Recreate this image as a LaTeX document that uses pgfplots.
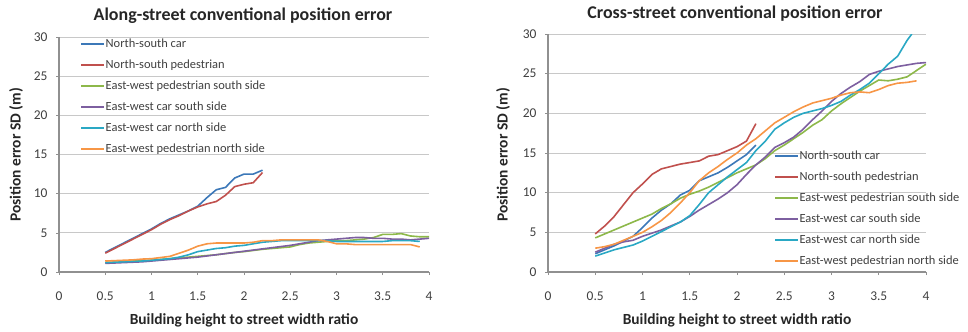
\documentclass[border=0pt]{standalone}
\usepackage{pgfplots}
\pgfplotsset{compat=1.18}
\usepackage{fontspec}
\setmainfont{Carlito}
\definecolor{cBlue}{HTML}{3C78B8}
\definecolor{cRed}{HTML}{C0504D}
\definecolor{cGreen}{HTML}{8DB84A}
\definecolor{cPurple}{HTML}{7D5FA0}
\definecolor{cTeal}{HTML}{2AA8C4}
\definecolor{cOrange}{HTML}{F79646}
\definecolor{cGrid}{HTML}{C8C8C8}
\definecolor{cAxis}{HTML}{909090}
\pgfplotsset{
  excel/.style={
    scale only axis,
    xmin=0, xmax=4, ymin=0, ymax=30,
    xtick={0,0.5,...,4}, ytick={0,5,...,30},
    axis x line*=bottom, axis y line*=left,
    axis line style={cAxis, line width=1.2bp, -},
    ymajorgrids, grid style={cGrid, line width=0.7bp},
    tick align=outside, major tick length=3bp,
    tick style={cAxis, line width=0.6bp},
    /pgf/number format/assume math mode=true,
    ticklabel style={font=\fontsize{13.5}{15}\selectfont, text=black!75},
    xticklabel style={anchor=base, yshift=-25bp},
    yticklabel style={anchor=east, xshift=-5bp},
    legend cell align=left,
    legend style={draw=none, fill=none, font=\fontsize{12.5}{14}\selectfont,
      text=black!75, row sep=9.9bp, inner sep=0pt,
      nodes={inner sep=0.5bp}},
    legend image code/.code={\draw[##1, line width=2bp] (0bp,0bp) -- (23bp,0bp);},
    every axis plot/.append style={line width=1.6bp, line join=round},
  }
}
\begin{document}
\begin{tikzpicture}[x=1bp,y=1bp]
\useasboundingbox (0,0) rectangle (968,331);
% ---------- Left chart ----------
\begin{axis}[excel, at={(59bp,59bp)}, anchor=origin, width=370bp, height=235bp,
  legend style={at={(axis cs:0.227,29.9)}, anchor=north west}]
\addplot[color=cBlue] coordinates {(0.5,2.5)(0.6,3.1)(0.7,3.7)(0.8,4.3)(0.9,4.9)(1.0,5.5)(1.1,6.2)(1.2,6.8)(1.3,7.3)(1.4,7.8)(1.5,8.4)(1.6,9.5)(1.7,10.5)(1.8,10.8)(1.9,12.0)(2.0,12.5)(2.1,12.5)(2.2,13.0)};
\addlegendentry{North-south car}
\addplot[color=cRed] coordinates {(0.5,2.4)(0.6,3.0)(0.7,3.6)(0.8,4.2)(0.9,4.8)(1.0,5.4)(1.1,6.1)(1.2,6.7)(1.3,7.2)(1.4,7.8)(1.5,8.3)(1.6,8.7)(1.7,9.0)(1.8,9.8)(1.9,10.9)(2.0,11.2)(2.1,11.4)(2.2,12.7)};
\addlegendentry{North-south pedestrian}
\addplot[color=cGreen] coordinates {(0.5,1.2)(0.6,1.25)(0.7,1.3)(0.8,1.4)(0.9,1.45)(1.0,1.5)(1.1,1.6)(1.2,1.7)(1.3,1.8)(1.4,1.9)(1.5,2.0)(1.6,2.1)(1.7,2.2)(1.8,2.35)(1.9,2.5)(2.0,2.6)(2.1,2.75)(2.2,2.9)(2.3,3.0)(2.4,3.1)(2.5,3.2)(2.6,3.5)(2.7,3.7)(2.8,3.8)(2.9,3.9)(3.0,4.0)(3.1,4.0)(3.2,4.1)(3.3,4.2)(3.4,4.4)(3.5,4.8)(3.6,4.8)(3.7,4.9)(3.8,4.6)(3.9,4.5)(4.0,4.5)};
\addlegendentry{East-west pedestrian south side}
\addplot[color=cPurple] coordinates {(0.5,1.1)(0.6,1.15)(0.7,1.2)(0.8,1.25)(0.9,1.3)(1.0,1.4)(1.1,1.5)(1.2,1.6)(1.3,1.7)(1.4,1.8)(1.5,1.9)(1.6,2.05)(1.7,2.2)(1.8,2.35)(1.9,2.5)(2.0,2.65)(2.1,2.8)(2.2,2.95)(2.3,3.1)(2.4,3.25)(2.5,3.4)(2.6,3.6)(2.7,3.8)(2.8,4.0)(2.9,4.1)(3.0,4.2)(3.1,4.3)(3.2,4.4)(3.3,4.4)(3.4,4.3)(3.5,4.3)(3.6,4.2)(3.7,4.2)(3.8,4.1)(3.9,4.2)(4.0,4.3)};
\addlegendentry{East-west car south side}
\addplot[color=cTeal] coordinates {(0.5,1.2)(0.6,1.25)(0.7,1.3)(0.8,1.35)(0.9,1.4)(1.0,1.5)(1.1,1.6)(1.2,1.7)(1.3,1.9)(1.4,2.2)(1.5,2.6)(1.6,2.8)(1.7,3.0)(1.8,3.1)(1.9,3.3)(2.0,3.4)(2.1,3.6)(2.2,3.8)(2.3,3.9)(2.4,4.0)(2.5,4.0)(2.6,4.0)(2.7,4.0)(2.8,4.0)(2.9,4.0)(3.0,3.9)(3.1,3.9)(3.2,3.9)(3.3,3.9)(3.4,3.9)(3.5,3.9)(3.6,4.0)(3.7,4.0)(3.8,4.0)(3.9,3.9)};
\addlegendentry{East-west car north side}
\addplot[color=cOrange] coordinates {(0.5,1.4)(0.6,1.45)(0.7,1.5)(0.8,1.55)(0.9,1.65)(1.0,1.7)(1.1,1.85)(1.2,2.0)(1.3,2.4)(1.4,2.8)(1.5,3.3)(1.6,3.6)(1.7,3.7)(1.8,3.7)(1.9,3.7)(2.0,3.7)(2.1,3.8)(2.2,4.0)(2.3,4.0)(2.4,4.1)(2.5,4.1)(2.6,4.1)(2.7,4.1)(2.8,4.1)(2.9,3.9)(3.0,3.6)(3.1,3.6)(3.2,3.5)(3.3,3.5)(3.4,3.5)(3.5,3.5)(3.6,3.5)(3.7,3.5)(3.8,3.5)(3.9,3.2)};
\addlegendentry{East-west pedestrian north side}
\end{axis}
% ---------- Right chart ----------
\begin{axis}[excel, at={(548bp,59bp)}, anchor=origin, width=378bp, height=238bp,
  legend style={at={(axis cs:2.39,15.4)}, anchor=north west}]
\addplot[color=cBlue] coordinates {(0.5,2.3)(0.6,2.8)(0.7,3.3)(0.8,3.9)(0.9,4.5)(1.0,5.6)(1.1,6.8)(1.2,7.8)(1.3,8.6)(1.4,9.7)(1.5,10.3)(1.6,11.5)(1.7,12.0)(1.8,12.5)(1.9,13.2)(2.0,14.0)(2.1,14.8)(2.2,16.0)};
\addlegendentry{North-south car}
\addplot[color=cRed] coordinates {(0.5,4.8)(0.6,5.8)(0.7,7.0)(0.8,8.5)(0.9,10.0)(1.0,11.1)(1.1,12.3)(1.2,13.0)(1.3,13.3)(1.4,13.6)(1.5,13.8)(1.6,14.0)(1.7,14.6)(1.8,14.8)(1.9,15.3)(2.0,15.8)(2.1,16.5)(2.2,18.7)};
\addlegendentry{North-south pedestrian}
\addplot[color=cGreen] coordinates {(0.5,4.3)(0.6,4.8)(0.7,5.3)(0.8,5.8)(0.9,6.3)(1.0,6.8)(1.1,7.3)(1.2,8.0)(1.3,8.6)(1.4,9.3)(1.5,9.8)(1.6,10.2)(1.7,10.7)(1.8,11.3)(1.9,11.9)(2.0,12.5)(2.1,13.0)(2.2,13.5)(2.3,14.3)(2.4,15.3)(2.5,16.0)(2.6,16.8)(2.7,17.6)(2.8,18.5)(2.9,19.2)(3.0,20.3)(3.1,21.2)(3.2,22.0)(3.3,22.8)(3.4,23.5)(3.5,24.2)(3.6,24.1)(3.7,24.3)(3.8,24.6)(3.9,25.4)(4.0,26.2)};
\addlegendentry{East-west pedestrian south side}
\addplot[color=cPurple] coordinates {(0.5,2.5)(0.6,3.0)(0.7,3.5)(0.8,3.8)(0.9,4.0)(1.0,4.5)(1.1,4.9)(1.2,5.3)(1.3,5.8)(1.4,6.3)(1.5,7.0)(1.6,7.8)(1.7,8.5)(1.8,9.2)(1.9,10.0)(2.0,11.0)(2.1,12.3)(2.2,13.5)(2.3,14.5)(2.4,15.7)(2.5,16.3)(2.6,17.0)(2.7,18.0)(2.8,19.2)(2.9,20.3)(3.0,21.5)(3.1,22.5)(3.2,23.3)(3.3,24.0)(3.4,24.9)(3.5,25.3)(3.6,25.6)(3.7,25.9)(3.8,26.1)(3.9,26.3)(4.0,26.4)};
\addlegendentry{East-west car south side}
\addplot[color=cTeal] coordinates {(0.5,2.0)(0.6,2.4)(0.7,2.8)(0.8,3.1)(0.9,3.4)(1.0,3.9)(1.1,4.5)(1.2,5.1)(1.3,5.7)(1.4,6.3)(1.5,7.1)(1.6,8.5)(1.7,10.0)(1.8,11.0)(1.9,12.0)(2.0,12.9)(2.1,13.8)(2.2,15.3)(2.3,16.5)(2.4,18.0)(2.5,18.8)(2.6,19.5)(2.7,20.0)(2.8,20.3)(2.9,20.6)(3.0,21.0)(3.1,21.5)(3.2,22.3)(3.3,23.0)(3.4,23.8)(3.5,25.0)(3.6,26.2)(3.7,27.2)(3.8,29.2)(3.85,30)};
\addlegendentry{East-west car north side}
\addplot[color=cOrange] coordinates {(0.5,3.0)(0.6,3.2)(0.7,3.5)(0.8,4.0)(0.9,4.5)(1.0,5.0)(1.1,5.7)(1.2,6.5)(1.3,7.5)(1.4,8.7)(1.5,10.0)(1.6,11.5)(1.7,12.5)(1.8,13.3)(1.9,14.2)(2.0,15.0)(2.1,16.0)(2.2,16.8)(2.3,17.8)(2.4,18.8)(2.5,19.5)(2.6,20.2)(2.7,20.8)(2.8,21.3)(2.9,21.6)(3.0,21.9)(3.1,22.3)(3.2,22.6)(3.3,22.7)(3.4,22.6)(3.5,23.0)(3.6,23.5)(3.7,23.8)(3.8,23.9)(3.9,24.1)};
\addlegendentry{East-west pedestrian north side}
\end{axis}
% ---------- Titles and axis labels ----------
\node[font=\bfseries\fontsize{18}{20}\selectfont, text=black!85] at (243,315) {Along-street conventional position error};
\node[font=\bfseries\fontsize{18}{20}\selectfont, text=black!85] at (735,317) {Cross-street conventional position error};
\node[font=\bfseries\fontsize{15.5}{17}\selectfont, text=black!85] at (244,11) {Building height to street width ratio};
\node[font=\bfseries\fontsize{15.5}{17}\selectfont, text=black!85] at (737,11) {Building height to street width ratio};
\node[font=\bfseries\fontsize{15.5}{17}\selectfont, text=black!85, rotate=90] at (16,176) {Position error SD (m)};
\node[font=\bfseries\fontsize{15.5}{17}\selectfont, text=black!85, rotate=90] at (503,176) {Position error SD (m)};
\end{tikzpicture}
\end{document}
